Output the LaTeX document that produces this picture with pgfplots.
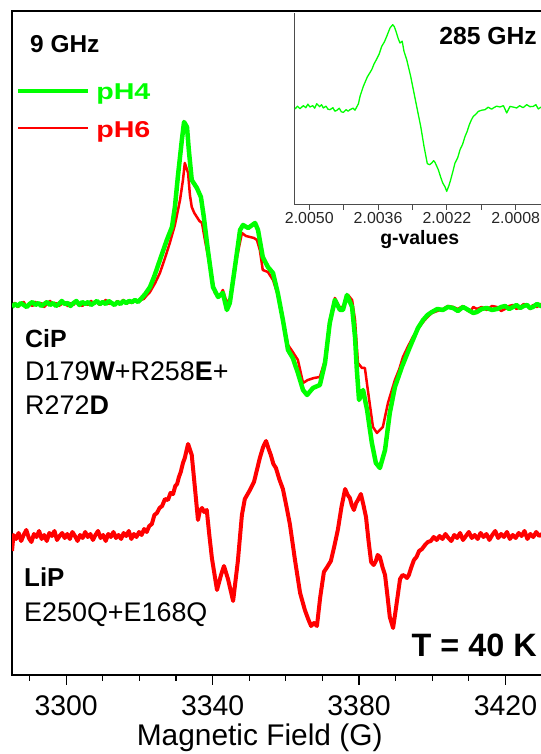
\documentclass[border=0pt]{standalone}
\usepackage{pgfplots}
\pgfplotsset{compat=1.18}
\usepackage{fontspec}
\setmainfont{Liberation Sans}
\definecolor{eprgreen}{RGB}{0,255,0}
\definecolor{eprred}{RGB}{255,0,0}

\begin{document}
\begin{tikzpicture}[x=1bp,y=1bp]
\useasboundingbox (0,0) rectangle (541,754);
\begin{axis}[
  at={(12bp,79bp)}, anchor=south west,
  scale only axis, width=533bp, height=664bp,
  xmin=3285.2, xmax=3430.8, ymin=0, ymax=664,
  axis line style={line width=1.6bp},
  xtick={3300,3340,3380,3420},
  minor xtick={3290,3310,3320,3330,3350,3360,3370,3390,3400,3410,3430},
  ytick=\empty,
  xtick pos=bottom, tick align=outside,
  major tick length=10bp, minor tick length=6bp,
  every tick/.style={black, line width=1.2bp},
  /pgf/number format/assume math mode=true,
  /pgf/number format/1000 sep={},
  xticklabel style={font=\fontsize{28.5}{34}\selectfont, anchor=base, inner sep=0pt, yshift=-30bp},
  clip=true,
]
% LiP (E250Q+E168Q)
\addplot[eprred, line width=4bp, line join=round] table {
3285.2 124
3285.6 140
3286.3 136
3287.0 142
3287.7 134
3288.4 140
3289.1 145
3289.8 137
3290.5 133
3291.2 141
3291.9 138
3292.6 144
3293.3 136
3294.0 140
3294.7 134
3295.4 142
3296.1 139
3296.8 144
3297.5 135
3298.2 139
3298.9 142
3299.6 137
3300.3 141
3301.0 136
3301.7 143
3302.4 139
3303.1 134
3303.8 140
3304.5 137
3305.2 143
3305.9 138
3306.6 141
3307.3 135
3308.0 140
3308.7 144
3309.4 137
3310.1 140
3310.8 134
3311.5 141
3312.2 138
3312.9 143
3313.6 137
3314.3 140
3315.0 136
3315.7 142
3316.4 139
3317.1 144
3317.8 136
3318.5 141
3319.2 138
3319.9 143
3320.6 140
3321.3 146
3322.0 143
3322.7 149
3323.4 151
3324.1 160
3324.8 162
3325.5 167
3326.2 169
3327.0 176
3327.8 175
3328.5 182
3329.2 181
3329.8 189
3330.3 191
3330.8 198
3331.3 203
3331.9 212
3332.4 217
3333.3 231
3334.3 220
3335.2 186
3336.0 155
3336.5 164
3337.1 167
3337.7 163
3338.4 165
3339.1 140
3339.8 117
3341.2 85
3342.3 100
3343.1 109
3344.2 96
3345.6 74
3346.9 114
3348.0 160
3348.8 176
3350.2 185
3351.3 193
3352.1 205
3352.9 217
3353.8 228
3354.6 234
3355.3 226
3355.9 220
3356.6 211
3357.3 207
3358.2 196
3359.2 186
3360.2 168
3361.1 151
3362.5 115
3363.9 82
3365.2 65
3366.1 56
3366.9 49
3367.7 52
3368.5 49
3369.4 78
3370.4 103
3371.3 108
3372.3 114
3373.2 128
3374.2 145
3375.2 168
3376.2 186
3376.9 180
3377.5 177
3378.0 170
3378.6 165
3379.2 172
3379.7 175
3380.5 181
3381.2 170
3381.9 158
3382.6 134
3383.3 113
3384.0 110
3384.6 114
3385.1 120
3385.7 118
3386.4 108
3387.1 100
3387.8 78
3388.4 58
3389.3 47
3389.9 62
3390.4 75
3391.2 96
3391.9 100
3392.5 99
3393.1 97
3393.6 100
3394.3 108
3395.0 115
3395.7 118
3396.4 124
3397.2 126
3398.0 130
3398.8 133
3399.6 134
3400.4 138
3401.2 135
3402.0 139
3402.8 136
3403.6 141
3404.4 137
3405.2 134
3406.0 140
3406.8 137
3407.6 142
3408.4 135
3409.2 139
3410.0 143
3410.8 137
3411.6 140
3412.4 136
3413.2 142
3414.0 138
3414.8 141
3415.6 135
3416.4 140
3417.2 144
3418.0 137
3418.8 141
3419.6 138
3420.4 143
3421.2 136
3422.0 140
3422.8 137
3423.6 142
3424.4 139
3425.2 144
3426.0 136
3426.8 141
3427.6 138
3428.4 143
3429.2 139
3430.0 141
3430.8 138
};
% CiP pH6
\addplot[eprred, line width=2.5bp, line join=round] table {
3285.2 369
3286.0 372
3286.8 368
3287.6 371
3288.4 373
3289.2 368
3290.0 371
3290.8 369
3291.6 373
3292.4 370
3293.2 372
3294.0 368
3294.8 371
3295.6 374
3296.4 370
3297.2 372
3298.0 369
3298.8 371
3299.6 373
3300.4 369
3301.2 372
3302.0 370
3302.8 374
3303.6 371
3304.4 369
3305.2 372
3306.0 370
3306.8 374
3307.6 371
3308.4 373
3309.2 370
3310.0 372
3310.8 375
3311.6 371
3312.4 373
3313.2 370
3314.0 374
3314.8 372
3315.6 375
3316.4 371
3317.2 373
3318.0 372
3318.8 375
3319.6 373
3320.4 375
3321.2 376
3322.1 380
3322.9 383
3324.3 392
3325.6 402
3327.0 417
3328.3 432
3329.7 450
3331.1 475
3331.9 495
3332.4 512
3333.3 502
3333.8 480
3334.3 468
3335.0 462
3335.7 458
3336.4 454
3337.1 452
3337.9 435
3339.3 408
3340.6 382
3342.0 379
3342.8 385
3343.9 372
3345.0 378
3346.4 413
3348.0 442
3349.1 439
3350.2 438
3351.3 437
3352.1 435
3352.9 425
3353.7 405
3355.1 403
3356.5 395
3357.8 380
3359.2 355
3360.6 330
3361.9 323
3363.3 315
3364.7 292
3366.0 295
3367.7 297
3369.3 298
3370.7 315
3372.0 355
3373.4 377
3374.8 367
3375.9 369
3377.0 380
3378.1 375
3378.9 355
3379.7 312
3380.8 307
3381.6 307
3382.4 285
3383.8 248
3384.9 242
3386.5 248
3387.9 272
3389.8 295
3391.0 306
3392.0 318
3393.3 328
3394.7 338
3396.1 346
3397.5 353
3398.7 358
3399.9 362
3401.4 364
3402.9 366
3404.3 369
3405.7 368
3407.0 366
3408.4 369
3409.4 365
3410.3 363
3411.2 368
3412.2 366
3413.5 368
3414.9 365
3416.3 369
3417.7 368
3418.8 364
3419.9 366
3421.0 369
3422.1 370
3423.0 366
3424.0 368
3425.0 371
3425.9 369
3426.7 366
3427.5 370
3428.6 368
3429.7 371
3430.8 368
};
% CiP pH4
\addplot[eprgreen, line width=4.5bp, line join=round] table {
3285.2 368
3286.0 371
3286.8 369
3287.6 372
3288.4 370
3289.2 368
3290.0 371
3290.8 373
3291.6 370
3292.4 372
3293.2 369
3294.0 371
3294.8 373
3295.6 370
3296.4 372
3297.2 369
3298.0 371
3298.8 374
3299.6 371
3300.4 372
3301.2 369
3302.0 372
3302.8 374
3303.6 370
3304.4 373
3305.2 371
3306.0 373
3306.8 370
3307.6 372
3308.4 374
3309.2 371
3310.0 373
3310.8 371
3311.6 374
3312.4 372
3313.2 370
3314.0 373
3314.8 371
3315.6 374
3316.4 372
3317.2 374
3318.0 373
3318.8 375
3319.6 373
3320.4 376
3321.6 381
3322.9 388
3324.2 400
3325.6 415
3327.5 435
3328.9 448
3329.7 468
3330.5 498
3331.6 535
3332.2 553
3333.0 548
3333.5 525
3334.3 495
3335.7 487
3336.8 478
3337.6 458
3338.7 425
3340.1 388
3341.5 378
3342.8 382
3343.9 365
3344.7 372
3346.1 408
3347.5 445
3348.3 450
3349.7 447
3351.6 452
3352.4 445
3353.7 418
3355.1 408
3356.5 402
3357.8 382
3359.2 355
3360.6 325
3361.9 317
3363.3 302
3364.7 285
3365.8 280
3367.4 287
3369.3 290
3370.7 312
3372.0 352
3373.4 375
3374.8 365
3375.6 365
3376.7 380
3378.1 368
3378.9 338
3379.4 305
3380.0 275
3381.1 285
3382.2 265
3383.5 232
3384.6 212
3385.7 207
3387.1 225
3388.4 262
3389.8 288
3391.7 308
3393.9 328
3396.1 347
3397.5 355
3398.7 360
3399.9 363
3401.4 366
3402.9 365
3404.3 368
3405.7 367
3407.0 364
3408.4 368
3409.4 366
3410.3 364
3411.2 362
3412.2 363
3413.5 366
3414.9 367
3416.3 365
3417.7 366
3418.8 368
3419.9 369
3421.0 366
3422.1 368
3423.0 370
3424.0 367
3425.0 369
3425.9 370
3426.7 367
3427.5 368
3428.6 371
3429.7 369
3430.8 368
};
\end{axis}

\begin{axis}[
  at={(294.7bp,549.3bp)}, anchor=south west,
  scale only axis, width=250.3bp, height=192bp,
  xmin=2.04, xmax=52.97, x dir=reverse,
  ymin=0, ymax=192,
  axis x line*=bottom, axis y line*=left,
  axis line style={black!70, line width=1bp},
  xtick={50,36,22,8},
  xticklabels={2.0050,2.0036,2.0022,2.0008},
  minor xtick={43,29,15},
  ytick=\empty,
  tick align=outside,
  major tick length=5bp, minor tick length=5bp,
  every tick/.style={black!70, line width=1bp},
  xticklabel style={font=\fontsize{16}{19}\selectfont, text=black!85, anchor=base, inner sep=0pt, yshift=-13.6bp},
]
\addplot[eprgreen, line width=1.3bp, line join=round] table {
52.91 95.7
52.40 98.5
51.90 96.0
51.22 99
50.70 97.0
50.30 100.5
49.86 97.7
49.30 99.0
48.90 96.5
48.49 101
47.90 98.0
47.50 100.0
47.15 96.7
46.60 98.5
46.20 95.5
45.79 95
45.20 97.0
44.80 93.5
44.42 94.3
43.90 96.5
43.50 93.0
43.08 92.3
42.50 95.0
42.10 93.5
41.72 95
41.10 96.5
40.70 94.5
40.35 97.7
40.00 101.0
39.68 108.3
39.01 118.3
38.20 127.7
37.30 135
36.80 141.0
36.28 145.7
35.80 150.5
35.27 158.3
34.70 163.0
34.25 168.3
33.58 176.7
33.03 180
32.70 178.0
32.36 173.3
31.90 166.0
31.55 161.7
31.10 163.5
30.73 153.3
30.18 145
29.37 128.3
28.70 111.7
28.02 95
27.33 78.3
26.66 58.3
25.99 41
25.50 40.0
25.09 41.7
24.70 44.0
24.42 42.3
23.75 35
23.30 28.0
22.85 21.7
22.40 18.0
22.04 13.3
21.60 19.0
21.23 25
20.80 33.0
20.35 41.7
19.80 47.0
19.33 55
18.80 60.5
18.31 68.3
17.90 73.0
17.44 80
17.00 85.0
16.63 88.3
16.10 90.5
15.61 93.3
14.90 94.5
14.25 95
13.60 97.5
12.90 95.5
12.56 96.7
11.90 98.5
11.20 97.7
10.50 99.0
9.83 91.7
9.50 95.0
9.16 98.3
8.40 97.5
7.80 96.7
7.20 99.0
6.50 97.0
5.76 100
5.10 98.0
4.42 98.3
3.90 100.0
3.40 95.7
2.90 97.5
2.40 96.5
};
\end{axis}

% texts
\node[anchor=base west, inner sep=0pt, font=\fontsize{24.5}{29}\selectfont\bfseries] at (30,701.3) {9 GHz};
\draw[eprgreen, line width=4bp] (18,663) -- (88,663);
\draw[eprred, line width=2bp] (18,626) -- (88,626);
\node[anchor=base west, inner sep=0pt, xscale=1.25, text=eprgreen, font=\fontsize{23}{27}\selectfont\bfseries] at (96,654) {pH4};
\node[anchor=base west, inner sep=0pt, xscale=1.25, text=eprred, font=\fontsize{23}{27}\selectfont\bfseries] at (96,616.7) {pH6};
\node[anchor=base west, inner sep=0pt, font=\fontsize{25}{30}\selectfont\bfseries] at (25,406) {CiP};
\node[anchor=base west, inner sep=0pt, font=\fontsize{27}{32}\selectfont] at (25,373) {D179\textbf{W}+R258\textbf{E}+};
\node[anchor=base west, inner sep=0pt, font=\fontsize{27}{32}\selectfont] at (25,339) {R272\textbf{D}};
\node[anchor=base west, inner sep=0pt, font=\fontsize{26}{31}\selectfont\bfseries] at (24,167) {LiP};
\node[anchor=base west, inner sep=0pt, font=\fontsize{27}{32}\selectfont] at (24,132) {E250Q+E168Q};
\node[anchor=base east, inner sep=0pt, font=\fontsize{32.5}{38}\selectfont\bfseries] at (537,97) {T = 40 K};
\node[anchor=base, inner sep=0pt, font=\fontsize{30}{36}\selectfont] at (259.7,8) {Magnetic Field (G)};
\node[anchor=base east, inner sep=0pt, font=\fontsize{24.8}{29}\selectfont\bfseries] at (537,709) {285 GHz};
\node[anchor=base, inner sep=0pt, font=\fontsize{19.5}{23}\selectfont\bfseries] at (419.7,509) {g-values};
\end{tikzpicture}
\end{document}
